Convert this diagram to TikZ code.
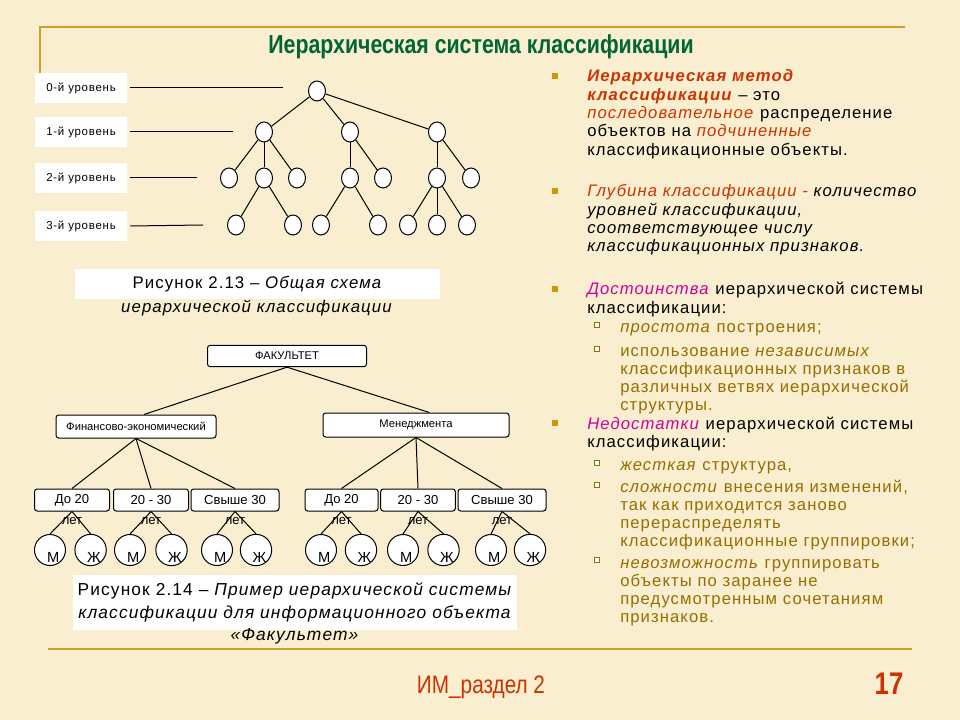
\documentclass[tikz,border=0pt]{standalone}
\usepackage{fontspec}
\setmainfont{Liberation Sans}
\newfontfamily\spacedfont[LetterSpace=6.5]{Liberation Sans}
\newfontfamily\narrowfont[FakeStretch=0.82]{Liberation Sans}
\usetikzlibrary{shapes.geometric}

\definecolor{parchment}{RGB}{250,238,208}
\definecolor{goldline}{RGB}{204,160,40}
\definecolor{titlegreen}{RGB}{0,102,51}
\definecolor{rusty}{RGB}{204,51,0}
\definecolor{pinkish}{RGB}{204,0,153}
\definecolor{olive}{RGB}{150,110,0}
\definecolor{bulletgold}{RGB}{204,153,0}

\tikzset{
  vert/.style={draw, fill=white, ellipse, inner sep=0pt, minimum width=12.75pt, minimum height=15pt, line width=0.75pt},
  levbox/.style={fill=white, minimum width=69pt, minimum height=22.5pt, font=\spacedfont\fontsize{8.6}{10}\selectfont},
  catbox/.style={draw, fill=white, rounded corners=2pt, inner sep=0pt, line width=0.75pt, font=\fontsize{8.4}{10}\selectfont},
  agebox/.style={catbox, minimum height=16.5pt, font=\fontsize{9.8}{11}\selectfont},
  sexnode/.style={draw, fill=white, circle, minimum size=23.25pt, inner sep=0pt, line width=0.75pt, text height=18pt, text depth=0pt, font=\fontsize{11}{12}\selectfont},
  link/.style={line width=0.75pt},
  frame/.style={goldline, line width=1.8pt},
  capt/.style={font=\spacedfont\fontsize{12.6}{17.25}\selectfont},
  txt/.style={anchor=base west, inner sep=0pt, font=\spacedfont\fontsize{12.5}{13.7}\selectfont},
  bul/.style={fill=bulletgold, inner sep=0pt, minimum size=4.5pt},
  subbul/.style={draw=olive, fill=white, inner sep=0pt, minimum size=4pt, line width=0.6pt},
}

\begin{document}
\begin{tikzpicture}[x=0.75pt, y=-0.75pt]
  \fill[parchment] (0,0) rectangle (960,720);
  \useasboundingbox (0,0) rectangle (960,720);

  % frame lines
  \draw[frame] (40,73) -- (40,27) -- (905,27);
  \draw[frame] (48,649) -- (912,649);

  \node[text=titlegreen, font=\narrowfont\bfseries\fontsize{19.5}{22}\selectfont] (title) at (481,47) {Иерархическая система классификации};

  % general scheme
  \node[levbox] (lev0) at (81,88) {0-й уровень};
  \node[levbox] (lev1) at (81,132) {1-й уровень};
  \node[levbox] (lev2) at (81,178) {2-й уровень};
  \node[levbox] (lev3) at (81,226) {3-й уровень};
  \coordinate (e0) at (283,88);
  \coordinate (e1) at (233,132);
  \coordinate (e2) at (197,178);
  \coordinate (e3) at (203,225);
  \foreach \i in {0,...,3}
    \draw[link] ([xshift=2.25pt]lev\i.east) -- (e\i);

  \node[vert] (n0) at (317,91) {};
  \node[vert] (n1a) at (264,132) {};
  \node[vert] (n1b) at (350,132) {};
  \node[vert] (n1c) at (437,132) {};
  \foreach \n/\x in {n2a/229, n2b/264, n2c/297, n2d/350, n2e/383, n2f/437, n2g/471}
    \node[vert] (\n) at (\x,178) {};
  \foreach \n/\x in {n3a/236, n3b/293, n3c/321, n3d/378, n3e/408, n3f/437, n3g/467}
    \node[vert] (\n) at (\x,225) {};
  \foreach \a/\b in {n0/n1a, n0/n1b, n0/n1c, n1a/n2a, n1a/n2b, n1a/n2c, n1b/n2d, n1b/n2e,
                     n1c/n2f, n1c/n2g, n2b/n3a, n2b/n3b, n2d/n3c, n2d/n3d, n2f/n3e, n2f/n3f, n2f/n3g}
    \draw[link] (\a) -- (\b);

  \node[capt, fill=white, minimum width=273.75pt, minimum height=22.5pt] (cap13) at (257.5,284) {Рисунок 2.13 – \textit{Общая схема}};
  \node[capt] (cap13b) at (257,308) {\textit{иерархической классификации}};

  % faculty example
  \node[catbox, minimum width=119.25pt, minimum height=16pt] (fac) at (287,356) {ФАКУЛЬТЕТ};
  \node[catbox, minimum width=120pt, minimum height=17.25pt] (fin) at (136,426.5) {Финансово-экономический};
  \node[catbox, minimum width=139.5pt, minimum height=18pt] (man) at (416,425) {Менеджмента};
  \draw[link] (fac.south) -- ([xshift=6pt]fin.north);
  \draw[link] (fac.south) -- ([xshift=10pt]man.north);

  \foreach \n/\x/\w/\t in {a1/72/56.25/До 20, a2/151/56.25/20 - 30, a3/235/66/Свыше 30,
                           a4/341.5/54.75/До 20, a5/418/56/20 - 30, a6/502/66/Свыше 30}
    \node[agebox, minimum width=\w pt, label={[font=\fontsize{9.8}{11}\selectfont, inner sep=0pt, label distance=4pt]below:лет}] (\n) at (\x,500) {\t};
  \foreach \b in {a1,a2,a3}
    \draw[link] (fin.south) -- (\b.north);
  \foreach \b in {a4,a5,a6}
    \draw[link] (man.south) -- (\b.north);

  \foreach \i/\xm/\xf in {1/50/90.6, 2/130/171.5, 3/217/256, 4/321/361, 5/403/443.5, 6/491/530} {
    \node[sexnode] (m\i) at (\xm,550) {\kern5pt М};
    \node[sexnode] (f\i) at (\xf,550) {\kern5pt Ж};
    \draw[link] (a\i.south) -- (m\i.north);
    \draw[link] (a\i.south) -- (f\i.north);
  }

  \node[fill=white, minimum width=333pt, minimum height=41.25pt, align=center, font=\spacedfont\fontsize{13}{17.25}\selectfont] (cap14) at (295,602) {Рисунок 2.14 – \textit{Пример иерархической системы}\\ \textit{классификации для информационного объекта}};
  \node[font=\spacedfont\fontsize{13}{15}\selectfont] (cap14b) at (295,636) {\textit{«Факультет»}};

  % right column
  \node[bul] (bu1) at (555,76) {};
  \node[txt] (def) at (587,82) {\parbox[t]{300pt}{\textcolor{rusty}{\textbf{\textit{Иерархическая метод}}}\\
    \textcolor{rusty}{\textbf{\textit{классификации}}} – это\\
    \textcolor{rusty}{\textit{последовательное}} распределение\\
    объектов на \textcolor{rusty}{\textit{подчиненные}}\\
    классификационные объекты.}};
  \node[bul] (bu2) at (555,191) {};
  \node[txt] (depth) at (587,197) {\parbox[t]{300pt}{\textcolor{rusty}{\textit{Глубина классификации -}} \textit{количество}\\
    \textit{уровней классификации,}\\
    \textit{соответствующее числу}\\
    \textit{классификационных признаков.}}};
  \node[bul] (bu3) at (555,289) {};
  \node[txt] (pros) at (587,295) {\parbox[t]{300pt}{\textcolor{pinkish}{\textit{Достоинства}} иерархической системы\\
    классификации:}};
  \node[subbul] (sb1) at (597,325) {};
  \node[txt, text=olive] (pros1) at (620,332) {\textit{простота} построения;};
  \node[subbul] (sb2) at (597,349) {};
  \node[txt, text=olive] (pros2) at (620,356) {\parbox[t]{300pt}{использование \textit{независимых}\\
    классификационных признаков в\\
    различных ветвях иерархической\\
    структуры.}};
  \node[bul] (bu4) at (555,423) {};
  \node[txt] (cons) at (587,429) {\parbox[t]{300pt}{\textcolor{pinkish}{\textit{Недостатки}} иерархической системы\\
    классификации:}};
  \node[subbul] (sb3) at (597,463) {};
  \node[txt, text=olive] (cons1) at (620,470) {\textit{жесткая} структура,};
  \node[subbul] (sb4) at (597,485) {};
  \node[txt, text=olive] (cons2) at (620,492) {\parbox[t]{300pt}{\textit{сложности} внесения изменений,\\
    так как приходится заново\\
    перераспределять\\
    классификационные группировки;}};
  \node[subbul] (sb5) at (597,560) {};
  \node[txt, text=olive] (cons3) at (620,568) {\parbox[t]{300pt}{\textit{невозможность} группировать\\
    объекты по заранее не\\
    предусмотренным сочетаниям\\
    признаков.}};

  % footer
  \node[text=rusty, font=\narrowfont\fontsize{19}{21}\selectfont] (foot) at (481,687) {ИМ\_раздел 2};
  \node[text=rusty, font=\narrowfont\bfseries\fontsize{23.5}{26}\selectfont] (page) at (889,684) {17};
\end{tikzpicture}
\end{document}
